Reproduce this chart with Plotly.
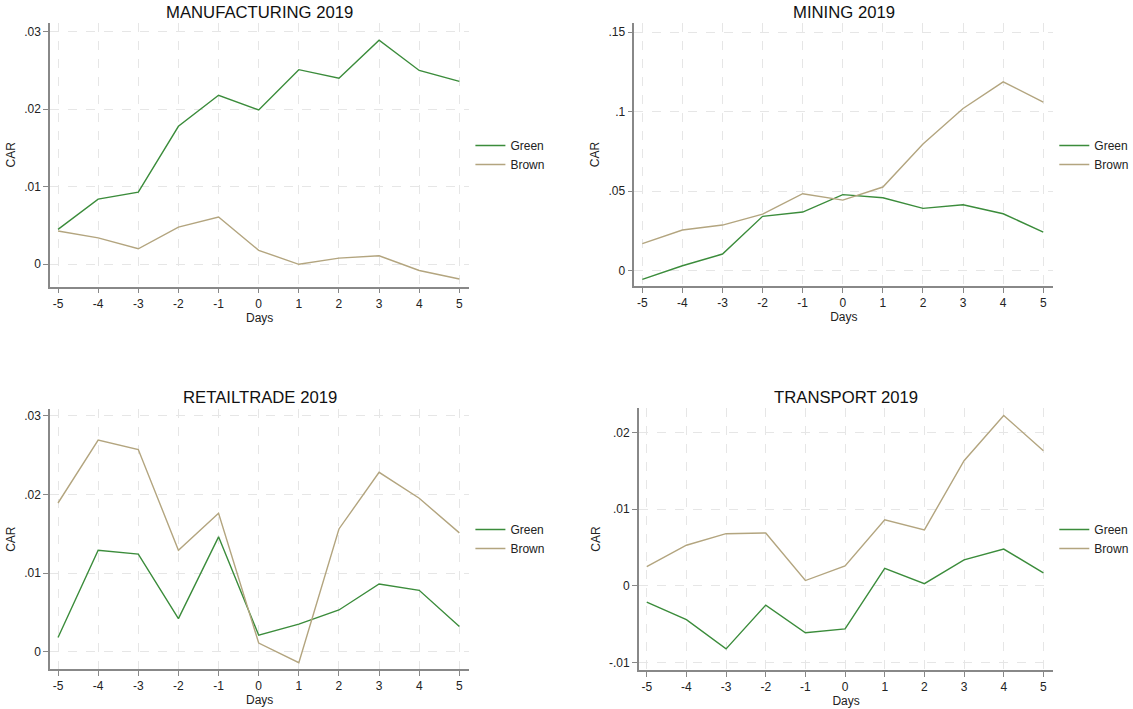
import plotly.graph_objects as go

days = [-5, -4, -3, -2, -1, 0, 1, 2, 3, 4, 5]

manu_green = [0.0045, 0.0084, 0.0093, 0.0178, 0.0218, 0.0199, 0.0251, 0.0240, 0.0289, 0.0250, 0.0236]
manu_brown = [0.0043, 0.0034, 0.0020, 0.0048, 0.0061, 0.0018, 0.0000, 0.0008, 0.0011, -0.0008, -0.0019]

mining_green = [-0.0054, 0.0031, 0.0105, 0.0342, 0.0369, 0.0478, 0.0459, 0.0392, 0.0415, 0.0358, 0.0243]
mining_brown = [0.0170, 0.0256, 0.0287, 0.0356, 0.0484, 0.0444, 0.0526, 0.0796, 0.1020, 0.1187, 0.1060]

retail_green = [0.0018, 0.0129, 0.0124, 0.0042, 0.0146, 0.0021, 0.0035, 0.0053, 0.0086, 0.0078, 0.0032]
retail_brown = [0.0189, 0.0269, 0.0257, 0.0129, 0.0176, 0.0011, -0.0014, 0.0156, 0.0228, 0.0195, 0.0151]

trans_green = [-0.0021, -0.0044, -0.0082, -0.0025, -0.0061, -0.0056, 0.0023, 0.0003, 0.0034, 0.0048, 0.0017]
trans_brown = [0.0025, 0.0053, 0.0068, 0.0069, 0.0007, 0.0026, 0.0086, 0.0073, 0.0163, 0.0222, 0.0176]

titles = ["MANUFACTURING 2019", "MINING 2019", "RETAILTRADE 2019", "TRANSPORT 2019"]

y_tickvals = [[0, 0.01, 0.02, 0.03], [0, 0.05, 0.1, 0.15], [0, 0.01, 0.02, 0.03], [-0.01, 0, 0.01, 0.02]]
y_ticktext = [["0", ".01", ".02", ".03"], ["0", ".05", ".1", ".15"], ["0", ".01", ".02", ".03"], ["-.01", "0", ".01", ".02"]]
y_ranges = [[-0.00289, 0.03112], [-0.0096, 0.1557], [-0.00224, 0.03085], [-0.01095, 0.02317]]

W, H = 1133, 709
GREEN = "#3b8c3b"
BROWN = "#b3a57f"
FONT = "Liberation Sans, Arial, sans-serif"

# pixel boxes: left, right, top, bottom
boxes = [(50, 469.4, 23, 286.7), (634.3, 1053.3, 23, 286), (50, 469.4, 409, 669.3), (638.8, 1053.3, 408, 670)]
title_y = [13, 13, 397, 397]
legend_mid = [155.5, 155.5, 539.5, 539.5]

series = [(manu_green, manu_brown), (mining_green, mining_brown), (retail_green, retail_brown), (trans_green, trans_brown)]

fig = go.Figure()
legend_names = ["legend", "legend2", "legend3", "legend4"]

for i, (g, b) in enumerate(series):
    sfx = "" if i == 0 else str(i + 1)
    fig.add_trace(go.Scatter(x=days, y=g, mode="lines", name="Green", line=dict(color=GREEN, width=1.4),
                             xaxis="x" + sfx, yaxis="y" + sfx, legend=legend_names[i]))
    fig.add_trace(go.Scatter(x=days, y=b, mode="lines", name="Brown", line=dict(color=BROWN, width=1.4),
                             xaxis="x" + sfx, yaxis="y" + sfx, legend=legend_names[i]))

layout = dict(width=W, height=H, margin=dict(l=0, r=0, t=0, b=0, autoexpand=False),
              paper_bgcolor="white", plot_bgcolor="white",
              font=dict(family=FONT, size=12, color="#222"), annotations=[])

axis_common = dict(showline=True, linecolor="#888", linewidth=1.5, ticks="outside", ticklen=5, tickwidth=1,
                   tickcolor="#888", showgrid=True, gridcolor="#e6e6e6", griddash="dash", gridwidth=1,
                   zeroline=False, automargin=False, tickfont=dict(size=12, color="#222"))

for i, (l, r, t, bt) in enumerate(boxes):
    sfx = "" if i == 0 else str(i + 1)
    xd = [l / W, r / W]
    yd = [1 - bt / H, 1 - t / H]
    layout["xaxis" + sfx] = dict(axis_common, domain=xd, range=[-5.2, 5.25], tickvals=days,
                                 ticktext=[str(d) for d in days], anchor="y" + sfx,
                                 title=dict(text="Days", font=dict(size=12), standoff=2))
    layout["yaxis" + sfx] = dict(axis_common, domain=yd, range=y_ranges[i], tickvals=y_tickvals[i],
                                 ticktext=y_ticktext[i], anchor="x" + sfx,
                                 title=dict(text="CAR", font=dict(size=12), standoff=6))
    layout["annotations"].append(dict(text=titles[i], x=(l + r) / 2 / W, y=1 - title_y[i] / H,
                                      xref="paper", yref="paper",
                                      xanchor="center", yanchor="middle", showarrow=False,
                                      font=dict(size=16.7, color="#111")))
    leg_top = legend_mid[i] - 24.5
    layout[legend_names[i]] = dict(x=(r + 1) / W, y=1 - leg_top / H, xanchor="left", yanchor="top",
                                   bgcolor="rgba(0,0,0,0)",
                                   font=dict(size=12, color="#222"), tracegroupgap=0, itemwidth=30)

fig.update_layout(**layout)
fig.write_html("out.html", config={"displayModeBar": False},
               post_script="document.body.style.margin='0';document.body.style.overflow='hidden';")
